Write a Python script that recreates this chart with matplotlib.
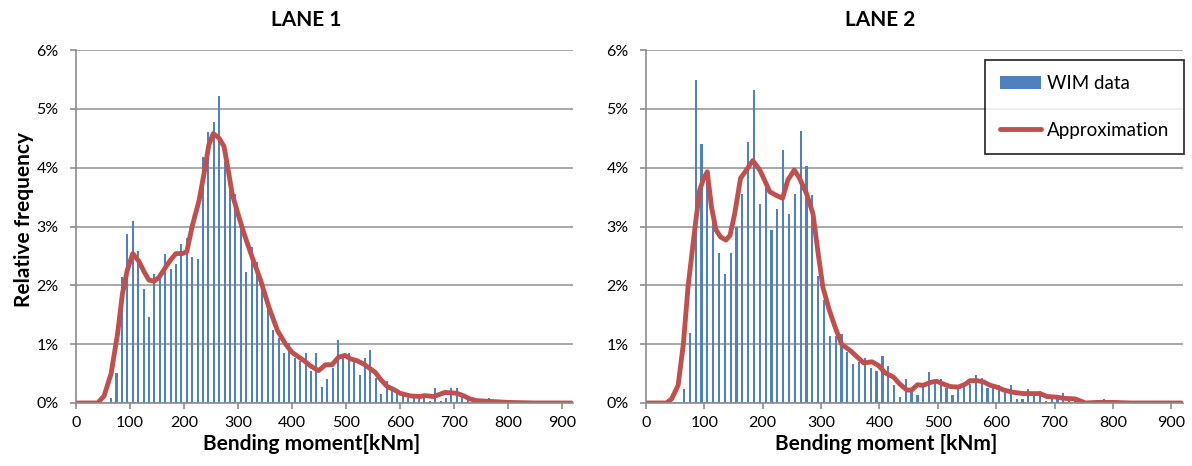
import numpy as np
import matplotlib
matplotlib.use("Agg")
import matplotlib.pyplot as plt
from matplotlib.ticker import FuncFormatter

# bin centres, 10 kNm wide
bins = np.arange(5, 915, 10)

# relative frequency [%] per bin (bins 65..795, rest 0)
lane1_freq = [0.08, 0.51, 2.14, 2.88, 3.10, 2.58, 1.93, 1.46, 2.19, 2.11,
              2.54, 2.28, 2.37, 2.71, 2.80, 2.49, 2.45, 4.18, 4.61, 4.78,
              5.22, 4.09, 3.90, 3.56, 2.98, 2.23, 2.66, 2.40, 2.05, 1.63,
              1.24, 1.11, 0.85, 1.02, 0.76, 0.72, 0.85, 0.55, 0.85, 0.28,
              0.41, 0.60, 1.07, 0.80, 0.85, 0.69, 0.47, 0.77, 0.90, 0.43,
              0.16, 0.38, 0.27, 0.21, 0.12, 0.08, 0.08, 0.07, 0.15, 0.04,
              0.25, 0.04, 0.08, 0.25, 0.25, 0.12, 0.06, 0.02, 0.02, 0.03,
              0.08, 0.03, 0.02, 0.01]
lane2_freq = [0.24, 1.19, 5.49, 4.40, 3.90, 3.16, 2.55, 2.20, 2.55, 3.00,
              3.56, 4.44, 5.32, 3.39, 3.73, 2.94, 3.29, 4.30, 3.22, 3.56,
              4.62, 4.03, 3.53, 2.16, 1.75, 1.14, 1.14, 1.18, 0.87, 0.66,
              0.69, 0.77, 0.60, 0.55, 0.80, 0.63, 0.31, 0.11, 0.41, 0.18,
              0.14, 0.27, 0.52, 0.36, 0.41, 0.25, 0.14, 0.25, 0.34, 0.32,
              0.48, 0.42, 0.26, 0.27, 0.31, 0.18, 0.31, 0.07, 0.07, 0.24,
              0.15, 0.20, 0.04, 0.06, 0.06, 0.17, 0.05, 0.03, 0.02, 0.02,
              0.02, 0.02, 0.07, 0.01]

# approximation curves
lane1_fit_x = [0, 40, 52, 65, 77, 86, 95, 105, 117, 126,
               135, 145, 154, 166, 175, 185, 197, 205, 215, 228,
               237, 246, 254, 265, 274, 281, 289, 299, 311, 326,
               342, 357, 373, 388, 400, 422, 434, 449, 462, 474,
               486, 498, 508, 520, 533, 545, 554, 563, 576, 588,
               600, 619, 637, 646, 662, 683, 705, 717, 729, 742,
               760, 800, 850, 917]
lane1_fit_y = [0, 0, 0.12, 0.5, 1.18, 1.86, 2.26, 2.54, 2.40, 2.23,
               2.09, 2.07, 2.14, 2.31, 2.43, 2.54, 2.54, 2.57, 3.0, 3.45,
               3.9, 4.39, 4.58, 4.5, 4.36, 4.0, 3.56, 3.24, 2.88, 2.48,
               2.08, 1.63, 1.23, 1.0, 0.86, 0.72, 0.63, 0.55, 0.65, 0.65,
               0.78, 0.81, 0.75, 0.72, 0.66, 0.58, 0.52, 0.41, 0.28, 0.23,
               0.165, 0.12, 0.11, 0.125, 0.11, 0.18, 0.165, 0.125, 0.07, 0.04,
               0.03, 0.01, 0.0, 0.0]
lane2_fit_x = [0, 35, 44, 55, 64, 72, 84, 92, 99, 105,
               112, 120, 128, 137, 144, 152, 162, 172, 183, 195,
               203, 212, 223, 234, 243, 254, 263, 275, 286, 295,
               303, 314, 324, 335, 350, 361, 373, 387, 398, 410,
               424, 435, 447, 455, 465, 475, 487, 498, 510, 521,
               535, 547, 555, 567, 578, 590, 601, 613, 630, 647,
               675, 687, 704, 715, 735, 753, 773, 801, 830, 917]
lane2_fit_y = [0, 0, 0.07, 0.3, 1.0, 1.97, 2.99, 3.62, 3.82, 3.93,
               3.34, 2.94, 2.82, 2.77, 2.85, 3.22, 3.82, 3.96, 4.12, 3.96,
               3.79, 3.59, 3.53, 3.48, 3.79, 3.96, 3.82, 3.56, 3.22, 2.54,
               1.97, 1.58, 1.29, 1.0, 0.89, 0.79, 0.68, 0.70, 0.64, 0.51,
               0.44, 0.32, 0.22, 0.22, 0.31, 0.30, 0.35, 0.37, 0.32, 0.28,
               0.27, 0.32, 0.38, 0.38, 0.36, 0.30, 0.27, 0.22, 0.18, 0.16,
               0.16, 0.11, 0.10, 0.08, 0.07, 0.0, 0.01, 0.01, 0.0, 0.0]

bar_color = "#4F81BD"
line_color = "#C0504D"
grid_color = "#9a9a9a"


def pad_bins(freq):
    full = np.zeros(len(bins))
    start = list(bins).index(65)
    full[start:start + len(freq)] = freq
    return full


def style_axes(ax):
    ax.set_xlim(0, 920)
    ax.set_ylim(0, 6)
    ax.set_xticks(range(0, 901, 100))
    ax.set_yticks(range(0, 7))
    ax.yaxis.set_major_formatter(FuncFormatter(lambda v, p: f"{int(v)}%"))
    ax.grid(axis="y", color=grid_color, linewidth=1.2)
    ax.set_axisbelow(True)
    for side in ["top", "right"]:
        ax.spines[side].set_visible(False)
    for side in ["left", "bottom"]:
        ax.spines[side].set_color("#8c8c8c")
        ax.spines[side].set_linewidth(1.2)
    ax.tick_params(axis="both", colors="#8c8c8c", length=4.5, width=1.2,
                   labelsize=11.5, labelcolor="black")
    ax.tick_params(axis="x", pad=5)
    ax.tick_params(axis="y", pad=8)


plt.rcParams["font.family"] = ["Lato", "DejaVu Sans"]

fig = plt.figure(figsize=(11.92, 4.66), dpi=100)
ax1 = fig.add_axes([76 / 1192, 1 - 403 / 466, 497 / 1192, 353 / 466])
ax2 = fig.add_axes([646 / 1192, 1 - 403 / 466, 537 / 1192, 353 / 466])

ax1.bar(bins, pad_bins(lane1_freq), width=3.8, color=bar_color, label="WIM data")
ax1.plot(lane1_fit_x, lane1_fit_y, color=line_color, linewidth=3.5,
         solid_capstyle="round", label="Approximation")
style_axes(ax1)
ax1.set_title("LANE 1", fontsize=15, fontweight="bold", x=0.463, pad=17)
ax1.set_xlabel("Bending moment[kNm]", fontsize=15, fontweight="bold")
ax1.xaxis.set_label_coords(0.475, -0.088)
ax1.set_ylabel("Relative frequency", fontsize=15, fontweight="bold")
ax1.yaxis.set_label_coords(-0.085, 0.52)

ax2.bar(bins, pad_bins(lane2_freq), width=3.8, color=bar_color, label="WIM data")
ax2.plot(lane2_fit_x, lane2_fit_y, color=line_color, linewidth=3.5,
         solid_capstyle="round", label="Approximation")
style_axes(ax2)
ax2.set_title("LANE 2", fontsize=15, fontweight="bold", x=0.436, pad=17)
ax2.set_xlabel("Bending moment [kNm]", fontsize=15, fontweight="bold")
ax2.xaxis.set_label_coords(0.447, -0.088)

handles, labels = ax2.get_legend_handles_labels()
order = [labels.index("WIM data"), labels.index("Approximation")]
leg = ax2.legend([handles[i] for i in order], [labels[i] for i in order],
                 loc="upper right", bbox_to_anchor=(1.002, 0.972),
                 borderaxespad=0, fontsize=13.5, frameon=True, fancybox=False,
                 edgecolor="black", handlelength=2.2, handleheight=0.65,
                 labelspacing=1.6, borderpad=0.8, handletextpad=0.3)
leg.get_frame().set_linewidth(1.3)

fig.savefig("out.png", dpi=100)
